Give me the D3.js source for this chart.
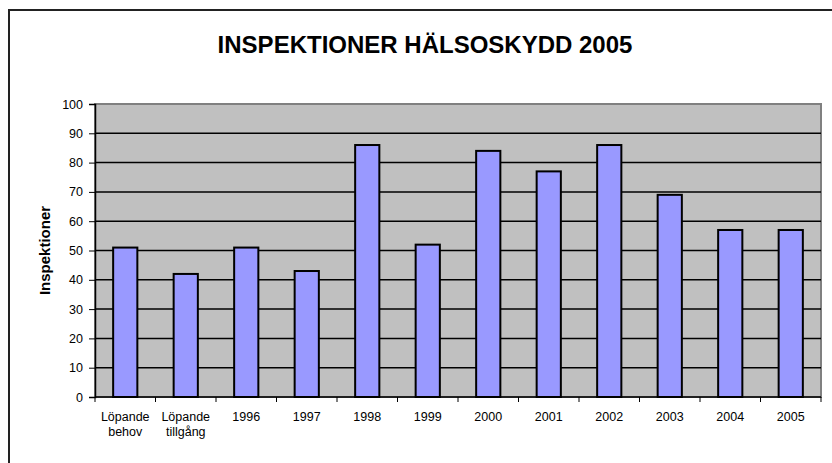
<!DOCTYPE html>
<html>
<head>
<meta charset="utf-8">
<script src="https://cdn.jsdelivr.net/npm/d3@7"></script>
<style>
body { margin: 0; background: #fff; }
text { font-family: "Liberation Sans", Arial, sans-serif; }
</style>
</head>
<body>
<script>
// chart data
var categories = ['Löpande behov', 'Löpande tillgång', '1996', '1997', '1998', '1999', '2000', '2001', '2002', '2003', '2004', '2005'];
var values = [51, 42, 51, 43, 86, 52, 84, 77, 86, 69, 57, 57];
var yTicks = [0, 10, 20, 30, 40, 50, 60, 70, 80, 90, 100];

var W = 832, H = 463;
var plotLeft = 95, plotRight = 821, plotTop = 104, plotBottom = 397;

var svg = d3.select('body').append('svg').attr('width', W).attr('height', H);

// outer chart border
svg.append('rect').attr('x', 9).attr('y', 10).attr('width', 840).attr('height', 470)
	.attr('fill', '#fff').attr('stroke', '#222').attr('stroke-width', 2);

var x = d3.scaleBand().domain(categories).range([plotLeft, plotRight]).paddingInner(0.6).paddingOuter(0.3);
var y = d3.scaleLinear().domain([0, 100]).range([plotBottom, plotTop]);

// plot area
svg.append('rect').attr('x', plotLeft).attr('y', plotTop).attr('width', plotRight - plotLeft).attr('height', plotBottom - plotTop)
	.attr('fill', '#c0c0c0').attr('stroke', '#808080').attr('stroke-width', 2);

// gridlines
svg.append('g').selectAll('line').data(yTicks.slice(1, -1)).enter().append('line')
	.attr('x1', plotLeft).attr('x2', plotRight)
	.attr('y1', d => y(d)).attr('y2', d => y(d))
	.attr('stroke', '#000').attr('stroke-width', 1.5);

// bars
svg.append('g').selectAll('rect').data(values).enter().append('rect')
	.attr('x', (d, i) => x(categories[i]))
	.attr('y', d => y(d))
	.attr('width', x.bandwidth())
	.attr('height', d => y(0) - y(d))
	.attr('fill', '#9999ff').attr('stroke', '#000').attr('stroke-width', 2);

// y axis
var yAxis = d3.axisLeft(y).tickValues(yTicks).tickSize(6).tickPadding(6);
var gy = svg.append('g').attr('transform', 'translate(' + plotLeft + ',0)').call(yAxis);
gy.select('.domain').attr('stroke', '#000').attr('stroke-width', 1.5);
gy.selectAll('.tick line').attr('stroke', '#000');
gy.selectAll('.tick text').attr('font-size', '12.5px').attr('fill', '#000')
	.style('font-family', '"Liberation Sans", Arial, sans-serif');

// x axis baseline and ticks at band boundaries
var bounds = d3.range(categories.length + 1).map(i => plotLeft + i * (plotRight - plotLeft) / categories.length);
svg.append('line').attr('x1', plotLeft).attr('x2', plotRight).attr('y1', plotBottom).attr('y2', plotBottom)
	.attr('stroke', '#000').attr('stroke-width', 1.5);
svg.append('g').selectAll('line').data(bounds).enter().append('line')
	.attr('x1', d => d).attr('x2', d => d).attr('y1', plotBottom).attr('y2', plotBottom + 5)
	.attr('stroke', '#000').attr('stroke-width', 1);

// x labels, split two word labels over two lines
var xl = svg.append('g').selectAll('text').data(categories).enter().append('text')
	.attr('x', d => x(d) + x.bandwidth() / 2)
	.attr('y', 421)
	.attr('text-anchor', 'middle').attr('font-size', '12.5px').attr('fill', '#000');
xl.each(function(d) {
	var parts = d.split(' ');
	var t = d3.select(this);
	parts.forEach(function(p, i) {
		t.append('tspan').attr('x', t.attr('x')).attr('dy', i == 0 ? 0 : 15).text(p);
	});
});

// y axis title
svg.append('text').text('Inspektioner')
	.attr('transform', 'translate(50,' + ((plotTop + plotBottom) / 2) + ') rotate(-90)')
	.attr('text-anchor', 'middle').attr('font-size', '15px').attr('font-weight', 'bold').attr('fill', '#000');

// chart title
svg.append('text').text('INSPEKTIONER HÄLSOSKYDD 2005')
	.attr('x', 425).attr('y', 53)
	.attr('text-anchor', 'middle').attr('font-size', '24px').attr('font-weight', 'bold').attr('fill', '#000');
</script>
</body>
</html>
